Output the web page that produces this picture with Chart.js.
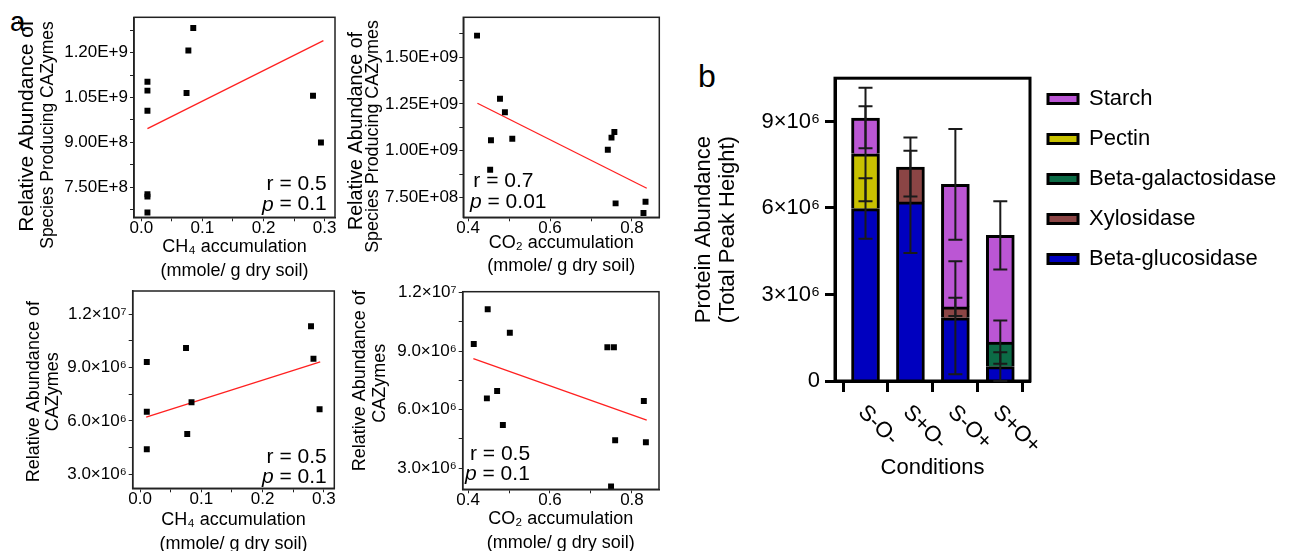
<!DOCTYPE html>
<html>
<head>
<meta charset="utf-8">
<script src="https://cdn.jsdelivr.net/npm/chart.js@4.4.1/dist/chart.umd.min.js"></script>
<style>
  html, body { margin: 0; padding: 0; background: #fff; overflow: hidden; width: 1292px; height: 551px; }
  body { position: relative; font-family: 'Liberation Sans', Arial, sans-serif; }
  canvas { position: absolute; }
  .panel { position: absolute; line-height: 1; color: #000; }
</style>
</head>
<body>
<div class="panel" style="left:10px; top:9px; font-size:27px;">a</div>
<div class="panel" style="left:698px; top:60px; font-size:32px;">b</div>
<canvas id="ch4Species" width="345" height="290" style="left:0; top:0;"></canvas>
<canvas id="co2Species" width="325" height="290" style="left:345px; top:0;"></canvas>
<canvas id="ch4Cazy" width="345" height="291" style="left:0; top:270px;"></canvas>
<canvas id="co2Cazy" width="325" height="291" style="left:345px; top:270px;"></canvas>
<canvas id="protein" width="602" height="490" style="left:690px; top:60px;"></canvas>
<script>
Chart.defaults.font.family = "'Liberation Sans', Arial, sans-serif";
Chart.defaults.color = '#000';
Chart.defaults.animation = false;

// ---- panel a: scatter data ----
const ch4Species = [0.010, 0.010, 0.010, 0.010, 0.010, 0.010, 0.074, 0.077, 0.085, 0.281, 0.294];
const speciesVsCh4 = [1.103e9, 1.073e9, 1.006e9, 0.727e9, 0.719e9, 0.666e9, 1.065e9, 1.207e9, 1.282e9, 1.056e9, 0.900e9];
const co2Species = [0.422, 0.478, 0.490, 0.456, 0.508, 0.454, 0.741, 0.750, 0.757, 0.760, 0.828, 0.833];
const speciesVsCo2 = [1.616e9, 1.278e9, 1.206e9, 1.056e9, 1.064e9, 0.898e9, 1.005e9, 1.070e9, 1.100e9, 0.718e9, 0.667e9, 0.727e9];
const ch4Cazy = [0.011, 0.011, 0.011, 0.075, 0.084, 0.077, 0.279, 0.283, 0.293];
const cazyVsCh4 = [9.32e6, 6.52e6, 4.41e6, 10.10e6, 7.05e6, 5.27e6, 11.33e6, 9.50e6, 6.66e6];
const co2Cazy = [0.414, 0.448, 0.502, 0.446, 0.471, 0.485, 0.740, 0.756, 0.759, 0.749, 0.829, 0.834];
const cazyVsCo2 = [9.37e6, 11.15e6, 9.95e6, 6.58e6, 6.96e6, 5.22e6, 9.20e6, 9.20e6, 4.43e6, 2.07e6, 6.45e6, 4.33e6];

// fitted lines (end points)
const fitCh4SpeciesX = [0.010, 0.298], fitCh4SpeciesY = [0.946e9, 1.240e9];
const fitCo2SpeciesX = [0.423, 0.836], fitCo2SpeciesY = [1.254e9, 0.799e9];
const fitCh4CazyX = [0.010, 0.294], fitCh4CazyY = [6.21e6, 9.32e6];
const fitCo2CazyX = [0.413, 0.836], fitCo2CazyY = [8.62e6, 5.47e6];

const statsR = ['0.5', '0.7', '0.5', '0.5'];
const statsP = ['0.1', '0.01', '0.1', '0.1'];

// ticks
const ch4Ticks = [0, 0.05, 0.1, 0.15, 0.2, 0.25, 0.3];
const ch4TickLabels = ['0.0', '', '0.1', '', '0.2', '', '0.3'];
const co2Ticks = [0.4, 0.5, 0.6, 0.7, 0.8];
const co2TickLabels = ['0.4', '', '0.6', '', '0.8'];
const speciesTicksA = [6.75e8, 7.5e8, 8.25e8, 9e8, 9.75e8, 1.05e9, 1.125e9, 1.2e9, 1.275e9];
const speciesLabelsA = ['', '7.50E+8', '', '9.00E+8', '', '1.05E+9', '', '1.20E+9', ''];
const speciesTicksB = [7.5e8, 8.75e8, 1e9, 1.125e9, 1.25e9, 1.375e9, 1.5e9, 1.625e9];
const speciesLabelsB = ['7.50E+08', '', '1.00E+09', '', '1.25E+09', '', '1.50E+09', ''];
const cazyTicks = [3e6, 4.5e6, 6e6, 7.5e6, 9e6, 10.5e6, 12e6];
const cazyTickLabels = ['3.0×10⁶', '', '6.0×10⁶', '', '9.0×10⁶', '', '1.2×10⁷'];

// ---- panel b: stacked bars ----
const conditions = ['S-O-', 'S+O-', 'S-O+', 'S+O+'];
const conditionPos = [1, 2, 3, 4];
const glucosidase = [5.98e6, 6.21e6, 2.19e6, 0.50e6];
const xylosidase = [null, 1.21e6, 0.38e6, null];
const galactosidase = [null, null, null, 0.85e6];
const pectin = [1.90e6, null, null, null];
const starch = [1.24e6, null, 4.25e6, 3.70e6];
const glucosidaseErr = [1.05e6, 1.77e6, 1.96e6, 0.50e6];
const xylosidaseErr = [0, 1.02e6, 0.32e6, 0];
const galactosidaseErr = [0, 0, 0, 0.75e6];
const pectinErr = [1.65e6, 0, 0, 0];
const starchErr = [1.05e6, 0, 1.92e6, 1.18e6];
const proteinTicks = [0, 3e6, 6e6, 9e6];
const proteinTickLabels = ['0', '3×10⁶', '6×10⁶', '9×10⁶'];

const FONT = "'Liberation Sans', Arial, sans-serif";

const framePlugin = {
  id: 'frame',
  afterDatasetsDraw(chart, args, o) {
    const { ctx, chartArea: a } = chart;
    ctx.save();
    ctx.strokeStyle = o.color;
    ctx.lineWidth = o.width;
    ctx.strokeRect(a.left, a.top, a.right - a.left, a.bottom - a.top);
    ctx.restore();
  }
};

const statsPlugin = {
  id: 'stats',
  afterDatasetsDraw(chart, args, o) {
    const { ctx, chartArea: a } = chart;
    const reg = '21px ' + FONT, ital = 'italic 21px ' + FONT;
    const line1 = 'r = ' + o.r, rest = ' = ' + o.p;
    ctx.save();
    ctx.fillStyle = '#000';
    ctx.textBaseline = 'middle';
    ctx.textAlign = 'left';
    ctx.font = reg;
    const w1 = ctx.measureText(line1).width, wRest = ctx.measureText(rest).width;
    ctx.font = ital;
    const wp = ctx.measureText('p').width;
    let x1, x2;
    if (o.align === 'right') {
      x1 = a.right - o.dx[0] - w1;
      x2 = a.right - o.dx[1] - wp - wRest;
    } else {
      x1 = a.left + o.dx[0];
      x2 = a.left + o.dx[1];
    }
    const y1 = a.bottom - o.dy[0], y2 = a.bottom - o.dy[1];
    ctx.font = reg;
    ctx.fillText(line1, x1, y1);
    ctx.font = ital;
    ctx.fillText('p', x2, y2);
    ctx.font = reg;
    ctx.fillText(rest, x2 + wp, y2);
    ctx.restore();
  }
};

// y titles: each line has its own size and offset, as in the figure
const sideTitle = {
  id: 'sideTitle',
  afterDraw(chart, args, o) {
    const { ctx, chartArea: a } = chart;
    const mid = (a.top + a.bottom) / 2;
    ctx.save();
    ctx.fillStyle = '#000';
    ctx.textAlign = 'center';
    ctx.textBaseline = 'middle';
    o.lines.forEach((t, i) => {
      ctx.save();
      ctx.font = o.sizes[i] + 'px ' + FONT;
      ctx.translate(a.left + o.dx[i], mid + o.dy[i]);
      ctx.rotate(-Math.PI / 2);
      ctx.fillText(t, 0, 0);
      ctx.restore();
    });
    ctx.restore();
  }
};

function scatter(id, o) {
  return new Chart(document.getElementById(id), {
    type: 'scatter',
    data: {
      datasets: [
        { data: o.x.map((v, i) => ({ x: v, y: o.y[i] })), pointStyle: 'rect', pointRadius: 4.2,
          backgroundColor: '#000', borderWidth: 0, order: 0 },
        { type: 'line', data: o.fitX.map((v, i) => ({ x: v, y: o.fitY[i] })), borderColor: '#ff2020',
          borderWidth: 1.3, pointRadius: 0, order: 1 }
      ]
    },
    options: {
      responsive: false,
      events: [],
      layout: { padding: { top: o.top, right: o.right, left: 0, bottom: 0 } },
      plugins: {
        legend: { display: false },
        tooltip: { enabled: false },
        frame: { color: '#222', width: 1.5 },
        stats: o.stats,
        sideTitle: o.yTitle
      },
      scales: {
        x: {
          type: 'linear', min: o.xMin, max: o.xMax,
          afterBuildTicks: s => { s.ticks = o.xTicks.map(value => ({ value })); },
          afterFit: s => { s.height = o.xAxisH; },
          ticks: { callback: (v, i) => o.xLabels[i], autoSkip: false, maxRotation: 0, padding: -3,
                   font: { size: 17 } },
          grid: { drawOnChartArea: false, tickLength: 4, color: '#222' },
          border: { color: '#222', width: 1.5 },
          title: { display: true, text: o.xTitle, font: { size: 18, lineHeight: o.xLh },
                   padding: { top: 0, bottom: o.xPad } }
        },
        y: {
          min: o.yMin, max: o.yMax,
          afterBuildTicks: s => { s.ticks = o.yTicks.map(value => ({ value })); },
          afterFit: s => { s.width = o.yAxisW; },
          ticks: { callback: (v, i) => o.yLabels[i], autoSkip: false, padding: o.yTickPad,
                   font: { size: 17 } },
          grid: { drawOnChartArea: false, tickLength: 4, color: '#222' },
          border: { color: '#222', width: 1.5 }
        }
      }
    },
    plugins: [framePlugin, statsPlugin, sideTitle]
  });
}

const speciesTitle = ['Relative Abundance of', 'Species Producing CAZymes'];
const cazyTitle = ['Relative Abundance of', 'CAZymes'];
const ch4Title = ['CH₄ accumulation', '(mmole/ g dry soil)'];
const co2Title = ['CO₂ accumulation', '(mmole/ g dry soil)'];

scatter('ch4Species', {
  x: ch4Species, y: speciesVsCh4, fitX: fitCh4SpeciesX, fitY: fitCh4SpeciesY,
  top: 17.3, right: 10, xAxisH: 72.7, yAxisW: 134,
  xMin: -0.012, xMax: 0.317, yMin: 0.650e9, yMax: 1.318e9,
  xTicks: ch4Ticks, xLabels: ch4TickLabels, yTicks: speciesTicksA, yLabels: speciesLabelsA,
  xTitle: ch4Title, xLh: 1.33, xPad: 7, yTickPad: 2,
  yTitle: { lines: speciesTitle, sizes: [21, 17.5], dx: [-106.3, -86], dy: [8.7, 17.7] },
  stats: { r: statsR[0], p: statsP[0], align: 'right', dx: [8.3, 8.3], dy: [33.3, 12.6] }
});

scatter('co2Species', {
  x: co2Species, y: speciesVsCo2, fitX: fitCo2SpeciesX, fitY: fitCo2SpeciesY,
  top: 17.3, right: 10.7, xAxisH: 72.7, yAxisW: 118.3,
  xMin: 0.3885, xMax: 0.8666, yMin: 0.6435e9, yMax: 1.714e9,
  xTicks: co2Ticks, xLabels: co2TickLabels, yTicks: speciesTicksB, yLabels: speciesLabelsB,
  xTitle: co2Title, xLh: 1.28, xPad: 12.5, yTickPad: 1,
  yTitle: { lines: speciesTitle, sizes: [19.7, 17.9], dx: [-106.8, -90], dy: [13.7, 19.2] },
  stats: { r: statsR[1], p: statsP[1], align: 'left', dx: [10, 6.7], dy: [36.5, 14.8] }
});

scatter('ch4Cazy', {
  x: ch4Cazy, y: cazyVsCh4, fitX: fitCh4CazyX, fitY: fitCh4CazyY,
  top: 21, right: 10.7, xAxisH: 72.7, yAxisW: 132.7,
  xMin: -0.012, xMax: 0.317, yMin: 2.21e6, yMax: 13.31e6,
  xTicks: ch4Ticks, xLabels: ch4TickLabels, yTicks: cazyTicks, yLabels: cazyTickLabels,
  xTitle: ch4Title, xLh: 1.33, xPad: 5, yTickPad: 2,
  yTitle: { lines: cazyTitle, sizes: [18, 18], dx: [-98.9, -79.3], dy: [2, 2] },
  stats: { r: statsR[2], p: statsP[2], align: 'right', dx: [7.6, 7.6], dy: [30.8, 10.8] }
});

scatter('co2Cazy', {
  x: co2Cazy, y: cazyVsCo2, fitX: fitCo2CazyX, fitY: fitCo2CazyY,
  top: 21.7, right: 11, xAxisH: 71.7, yAxisW: 117.7,
  xMin: 0.387, xMax: 0.866, yMin: 1.92e6, yMax: 12.05e6,
  xTicks: co2Ticks, xLabels: co2TickLabels, yTicks: cazyTicks, yLabels: cazyTickLabels,
  xTitle: co2Title, xLh: 1.33, xPad: 6, yTickPad: 2,
  yTitle: { lines: cazyTitle, sizes: [18, 18], dx: [-102.2, -82.7], dy: [-9.7, -7.2] },
  stats: { r: statsR[3], p: statsP[3], align: 'left', dx: [7.3, 2.3], dy: [35.1, 15.1] }
});

// ---- panel b ----
const errorBarPlugin = {
  id: 'errorBars',
  afterDatasetsDraw(chart) {
    const { ctx, scales: { y } } = chart;
    const sums = conditions.map(() => 0);
    ctx.save();
    ctx.strokeStyle = '#1a1a1a';
    ctx.lineWidth = 2;
    chart.data.datasets.forEach((ds, d) => {
      const meta = chart.getDatasetMeta(d);
      ds.data.forEach((pt, i) => {
        if (pt.y == null) return;
        sums[i] += pt.y;
        const err = ds.errors[i];
        if (!err) return;
        const x = meta.data[i].x;
        const hi = y.getPixelForValue(sums[i] + err), lo = y.getPixelForValue(sums[i] - err);
        ctx.beginPath();
        ctx.moveTo(x, hi); ctx.lineTo(x, lo);
        ctx.moveTo(x - 7, hi); ctx.lineTo(x + 7, hi);
        ctx.moveTo(x - 7, lo); ctx.lineTo(x + 7, lo);
        ctx.stroke();
      });
    });
    ctx.restore();
  }
};

const slantLabels = {
  id: 'slantLabels',
  afterDraw(chart, args, o) {
    const { ctx, scales: { x }, chartArea } = chart;
    ctx.save();
    ctx.font = '22px ' + FONT;
    ctx.fillStyle = '#000';
    ctx.textAlign = 'left';
    ctx.textBaseline = 'middle';
    o.labels.forEach((t, i) => {
      ctx.save();
      ctx.translate(x.getPixelForValue(o.at[i]) + o.dx, chartArea.bottom + o.dy);
      ctx.rotate(Math.PI / 4);
      ctx.fillText(t, 0, 0);
      ctx.restore();
    });
    ctx.restore();
  }
};

const stackSeries = (label, values, errors, color) => ({
  label,
  data: values.map((v, i) => ({ x: conditionPos[i], y: v })),
  errors,
  backgroundColor: color,
  borderColor: '#000',
  borderWidth: 3,
  barThickness: 28
});

new Chart(document.getElementById('protein'), {
  type: 'bar',
  data: {
    datasets: [
      stackSeries('Beta-glucosidase', glucosidase, glucosidaseErr, '#0000bf'),
      stackSeries('Xylosidase', xylosidase, xylosidaseErr, '#8b4545'),
      stackSeries('Beta-galactosidase', galactosidase, galactosidaseErr, '#0c6b46'),
      stackSeries('Pectin', pectin, pectinErr, '#c8c100'),
      stackSeries('Starch', starch, starchErr, '#bb56d4')
    ]
  },
  options: {
    responsive: false,
    events: [],
    layout: { padding: { top: 10, right: 6, left: 0, bottom: 0 } },
    plugins: {
      title: { display: true, text: '', font: { size: 1, lineHeight: 1 }, padding: { top: 6, bottom: 0 } },
      legend: {
        position: 'right', align: 'start', reverse: true, maxWidth: 256,
        labels: { boxWidth: 30, boxHeight: 9, padding: 18, color: '#000', font: { size: 22 } }
      },
      tooltip: { enabled: false },
      frame: { color: '#000', width: 3 },
      slantLabels: { labels: conditions, at: conditionPos, dx: -4, dy: 28 }
    },
    scales: {
      x: {
        type: 'linear', stacked: true, offset: false, min: 0.321, max: 4.661,
        afterBuildTicks: s => { s.ticks = conditionPos.map(value => ({ value })); },
        afterFit: s => { s.height = 169; },
        ticks: { callback: () => '', autoSkip: false, maxRotation: 0 },
        grid: { drawOnChartArea: false, tickLength: 11, tickWidth: 3, color: '#000' },
        border: { color: '#000', width: 3 },
        title: { display: true, text: 'Conditions', font: { size: 22, lineHeight: 1.2 },
                 padding: { top: 0, bottom: 68.8 } }
      },
      y: {
        stacked: true, min: 0, max: 10.5e6,
        afterBuildTicks: s => { s.ticks = proteinTicks.map(value => ({ value })); },
        afterFit: s => { s.width = 145; },
        ticks: { callback: (v, i) => proteinTickLabels[i], padding: 5, font: { size: 22 } },
        grid: { drawOnChartArea: false, tickLength: 10, tickWidth: 3, color: '#000' },
        border: { color: '#000', width: 3 },
        title: { display: true, text: ['Protein Abundance', '(Total Peak Height)'],
                 font: { size: 22, lineHeight: 1.1 }, padding: { top: 2, bottom: 0 } }
      }
    }
  },
  plugins: [framePlugin, errorBarPlugin, slantLabels]
});
</script>
</body>
</html>
